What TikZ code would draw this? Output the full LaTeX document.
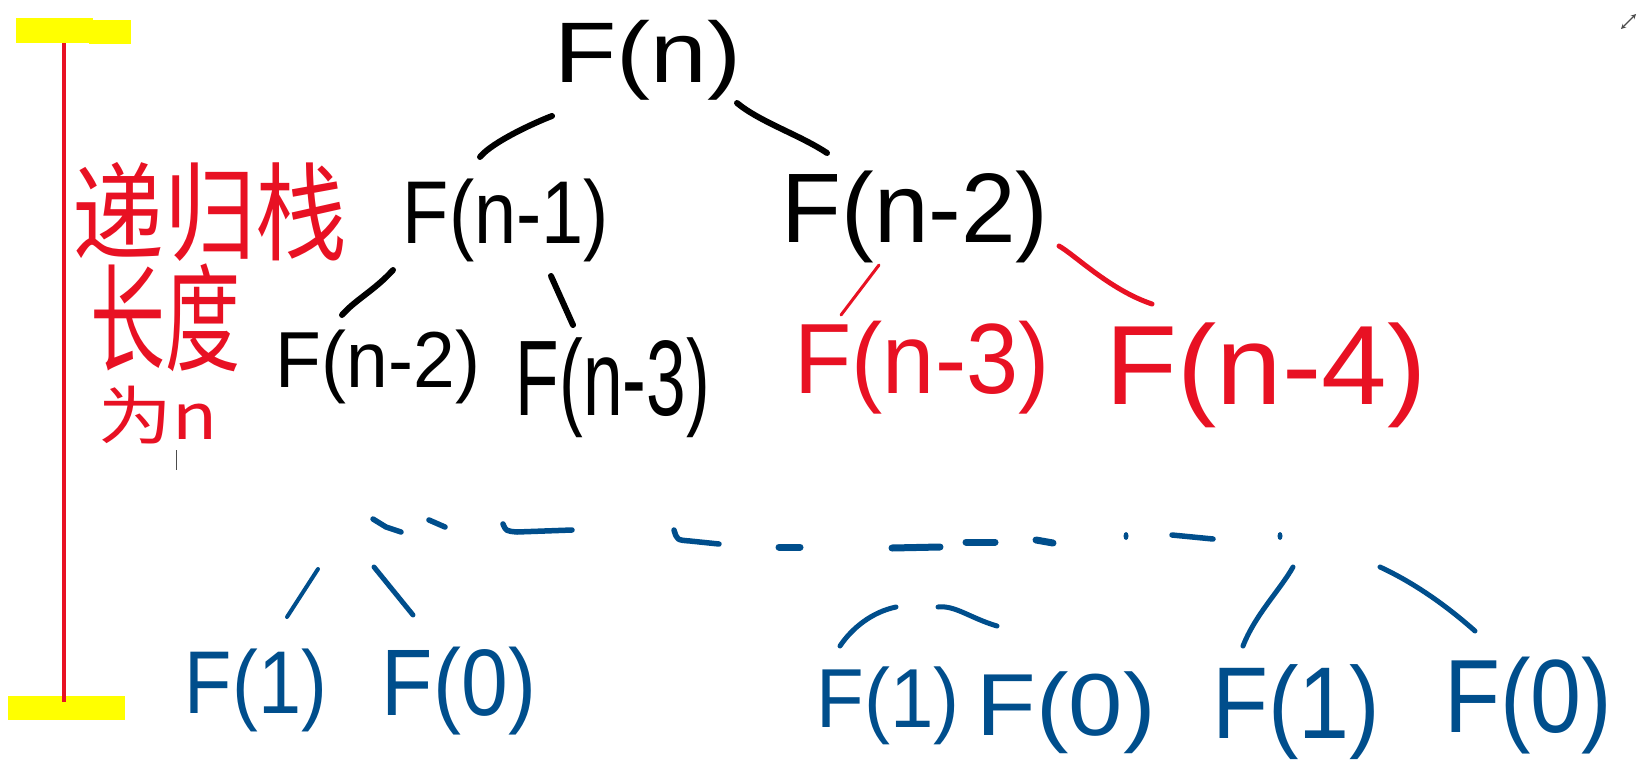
\documentclass[tikz,border=0pt]{standalone}
\usepackage{graphicx}
\usepackage{fontspec}
\setmainfont{Liberation Sans}
\newfontfamily\cjk{Noto Sans CJK SC}
\usetikzlibrary{arrows.meta,calc}
\definecolor{hwred}{RGB}{232,17,35}
\definecolor{hwblue}{RGB}{0,78,140}
\definecolor{hlyellow}{RGB}{255,255,0}
\newcommand{\hw}[3]{\resizebox*{#1pt}{#2pt}{#3}}
\begin{document}
\begin{tikzpicture}[x=1pt,y=-1pt,
  lab/.style={inner sep=0pt,outer sep=0pt,anchor=center},
  blk/.style={lab,text=black},
  rd/.style={lab,text=hwred},
  bl/.style={lab,text=hwblue},
  conn/.style={line width=6pt,line cap=round,line join=round},
  bconn/.style={hwblue,line width=5pt,line cap=round,line join=round},
  dsh/.style={hwblue,line width=5.5pt,line cap=round,line join=round}]
\useasboundingbox (0,0) rectangle (1637,779);
% highlight bars and red axis
\fill[hlyellow] (16,18) rectangle (93,43);
\fill[hlyellow] (89,20) rectangle (131,44);
\fill[hlyellow] (8,696) rectangle (125,720);
\draw[hwred,line width=3.5pt] (64,43) -- (64,702);
% chinese label
\node[rd] (c1) at (210,212) {\hw{275}{99}{\cjk 递归栈}};
\node[rd] (c2) at (165,318) {\hw{150}{108}{\cjk 长度}};
\node[rd] (c3) at (158,415) {\hw{119}{58}{\cjk 为n}};
\draw[gray!60!black,line width=1pt] (176,450) -- (176,470);
% tree nodes
\node[blk] (Fn)  at (648,60)  {\hw{187}{80}{F(n)}};
\node[blk] (Fn1) at (506,220) {\hw{206}{83}{F(n-1)}};
\node[blk] (Fn2) at (915,217) {\hw{267}{92}{F(n-2)}};
\node[blk] (Fn2b) at (378,367) {\hw{204}{74}{F(n-2)}};
\node[blk] (Fn3b) at (613,388) {\hw{194}{100}{F(n-3)}};
\node[rd] (Fn3r) at (922,368) {\hw{255}{93}{F(n-3)}};
\node[rd] (Fn4r) at (1266,375) {\hw{321}{105}{F(n-4)}};
\node[bl] (F1a) at (256,690) {\hw{142}{83}{F(1)}};
\node[bl] (F0a) at (459,691) {\hw{154}{88}{F(0)}};
\node[bl] (F1b) at (888,706) {\hw{143}{78}{F(1)}};
\node[bl] (F0b) at (1066,713) {\hw{179}{82}{F(0)}};
\node[bl] (F1c) at (1296,712) {\hw{168}{95}{F(1)}};
\node[bl] (F0c) at (1528,706) {\hw{168}{97}{F(0)}};
% black connectors
\draw[conn] ($(Fn)+(-96,56)$) .. controls +(-16,6) and +(12,-15) .. ($(Fn1)+(-26,-63)$);
\draw[conn] ($(Fn)+(89,43)$) .. controls +(23,19) and +(-27,-18) .. ($(Fn2)+(-88,-64)$);
\draw[conn] ($(Fn1)+(-113,50)$) .. controls +(-18,20) and +(13,-15) .. ($(Fn2b)+(-36,-52)$);
\draw[conn] ($(Fn1)+(45,56)$) -- ($(Fn3b)+(-40,-63)$);
% red connectors
\draw[hwred,line width=3pt,line cap=round] ($(Fn2)+(-36,48)$) -- ($(Fn3r)+(-81,-53)$);
\draw[hwred,line width=5pt,line cap=round] ($(Fn2)+(144,29)$) .. controls +(16,9) and +(-42,-14) .. ($(Fn4r)+(-114,-71)$);
% dotted ellipsis row
\draw[dsh] (373,519) -- (386,527) -- (401,532);
\draw[dsh] (429,520) -- (445,527);
\draw[dsh] (503,524) .. controls (506,531) .. (517,532) -- (572,530);
\draw[dsh] (674,530) .. controls (677,540) .. (690,541) -- (719,544);
\draw[dsh,line width=7pt] (779,547) -- (800,547);
\draw[dsh,line width=7pt] (892,548) -- (940,547);
\draw[dsh,line width=7pt] (966,542) -- (995,542);
\draw[dsh,line width=7pt] (1036,540) -- (1053,543);
\fill[hwblue] (1126,536) ellipse (2.5 and 4);
\draw[dsh] (1172,535) -- (1213,539);
\fill[hwblue] (1280,536) ellipse (2.5 and 4);
% blue connectors
\draw[bconn,line width=4pt] ($(F1a)+(62,-121)$) -- ($(F1a)+(31,-73)$);
\draw[bconn] ($(F0a)+(-85,-124)$) -- ($(F0a)+(-46,-76)$);
\draw[bconn] ($(F1b)+(8,-99)$) .. controls +(-24,5) and +(12,-18) .. ($(F1b)+(-48,-60)$);
\draw[bconn] ($(F0b)+(-128,-106)$) .. controls +(17,-2) and +(-27,-8) .. ($(F0b)+(-69,-87)$);
\draw[bconn] ($(F1c)+(-3,-145)$) .. controls +(-13,23) and +(12,-31) .. ($(F1c)+(-53,-66)$);
\draw[bconn] ($(F0c)+(-148,-139)$) .. controls +(28,13) and +(-35,-31) .. ($(F0c)+(-53,-75)$);
% corner icon
\draw[gray!60!black,line width=1.2pt,{Stealth[length=5pt,width=5pt]}-{Stealth[length=5pt,width=5pt]}] (1621,29) -- (1636,14);
\end{tikzpicture}
\end{document}
